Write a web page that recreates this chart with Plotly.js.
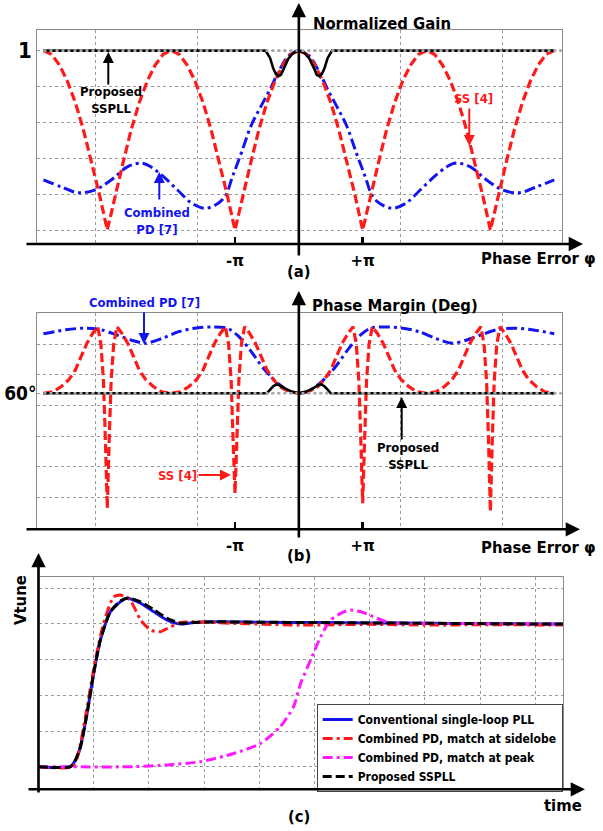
<!DOCTYPE html>
<html><head><meta charset="utf-8">
<script src="https://cdn.plot.ly/plotly-3.0.1.min.js"></script>
<style>html,body{margin:0;padding:0;background:#fff;}#chart{width:603px;height:831px;}</style>
</head><body><div id="chart"></div><script>
// ================= DATA =================
// (a) Normalized gain vs phase error (phase error in units of pi)
const phiGainSS = [-4,-3.875,-3.75,-3.625,-3.5,-3.375,-3.25,-3.125,-3,-2.875,-2.75,-2.625,-2.5,-2.375,-2.25,-2.125,-2,
  -1.875,-1.75,-1.625,-1.5,-1.375,-1.25,-1.125,-1,-0.875,-0.75,-0.625,-0.5,-0.375,-0.25,-0.125,0,
  0.125,0.25,0.375,0.5,0.625,0.75,0.875,1,1.125,1.25,1.375,1.5,1.625,1.75,1.875,2,
  2.125,2.25,2.375,2.5,2.625,2.75,2.875,3,3.125,3.25,3.375,3.5,3.625,3.75,3.875,4];
const gainSS = [1,.98,.92,.83,.71,.56,.38,.2,0,.2,.38,.56,.71,.83,.92,.98,1,
  .98,.92,.83,.71,.56,.38,.2,0,.2,.38,.56,.71,.83,.92,.98,1,
  .98,.92,.83,.71,.56,.38,.2,0,.2,.38,.56,.71,.83,.92,.98,1,
  .98,.92,.83,.71,.56,.38,.2,0,.2,.38,.56,.71,.83,.92,.98,1];
const phiGainPD = [-4,-3.72,-3.46,-3.2,-2.94,-2.68,-2.46,-2.32,-2.12,-1.9,-1.68,-1.47,-1.28,-1.15,-1.04,-0.9,-0.75,-0.6,-0.45,-0.3,-0.15,0,
  0.15,0.3,0.45,0.6,0.75,0.9,1.04,1.15,1.28,1.47,1.68,1.9,2.12,2.32,2.46,2.68,2.94,3.2,3.46,3.72,4];
const gainPD = [0.28,0.24,0.208,0.222,0.279,0.353,0.373,0.353,0.297,0.223,0.15,0.121,0.145,0.19,0.297,0.43,0.58,0.685,0.785,0.895,0.975,1,
  0.975,0.895,0.785,0.685,0.58,0.43,0.297,0.19,0.145,0.121,0.15,0.223,0.297,0.353,0.373,0.353,0.279,0.222,0.208,0.24,0.28];
const phiGainProp = [-4,-0.52,-0.45,-0.4,-0.36,-0.32,-0.28,-0.24,-0.165,-0.087,0,0.087,0.165,0.24,0.28,0.32,0.36,0.4,0.45,0.52,4];
const gainProp = [1,1,0.958,0.9,0.87,0.858,0.865,0.9,0.955,0.988,1,0.988,0.955,0.9,0.865,0.858,0.87,0.9,0.958,1,1];
const phiIdeal = [-4,4.15];
const gainIdeal = [1,1];

// (b) Phase margin (deg) vs phase error (units of pi)
const phiPmSS = [-4,-3.85,-3.72,-3.6,-3.5,-3.41,-3.32,-3.23,-3.15,-3.1,-3.06,-3.03,-3,-2.97,-2.94,-2.9,-2.85,-2.77,-2.68,-2.59,-2.5,-2.4,-2.28,-2.15,
  -2,-1.85,-1.72,-1.6,-1.5,-1.41,-1.32,-1.23,-1.15,-1.1,-1.06,-1.03,-1,-0.97,-0.94,-0.9,-0.85,-0.77,-0.68,-0.59,-0.5,-0.4,-0.3,-0.15,
  0,0.15,0.3,0.4,0.5,0.59,0.68,0.77,0.85,0.9,0.94,0.97,1,1.03,1.06,1.1,1.15,1.23,1.32,1.41,1.5,1.6,1.72,1.85,
  2,2.15,2.28,2.4,2.5,2.59,2.68,2.77,2.85,2.9,2.94,2.97,3,3.03,3.06,3.1,3.15,3.23,3.32,3.41,3.5,3.6,3.72,3.85,4];
const pmSS = [60,60.5,62.2,64.5,67.6,72,76.3,79.5,81.7,76,64,45,22.5,45,64,76,81.7,79.5,76.3,72,67.6,64.5,62.2,60.5,
  60,60.5,62.2,64.5,67.6,72,76.3,79.5,81.7,76,64,45,27.4,45,64,76,81.7,79.5,76.3,72,67.6,64.5,62.2,60.5,
  60,60.5,62.2,64.5,67.6,72,76.3,79.5,81.7,76,64,45,24.2,45,64,76,81.7,79.5,76.3,72,67.6,64.5,62.2,60.5,
  60,60.5,62.2,64.5,67.6,72,76.3,79.5,81.7,76,64,45,21.4,45,64,76,81.7,79.5,76.3,72,67.6,64.5,62.2,60.5,60];
const phiPmPD = [-4,-3.65,-3.37,-3.1,-2.85,-2.62,-2.4,-2.14,-1.88,-1.6,-1.35,-1.12,-0.95,-0.76,-0.55,-0.33,-0.15,0,
  0.15,0.33,0.55,0.76,0.95,1.12,1.35,1.6,1.88,2.14,2.4,2.62,2.85,3.1,3.37,3.65,4];
const pmPD = [79.4,80.7,81.2,80.7,79,77.3,76.3,77.9,80.1,81.3,81.6,81.2,78.7,74,68,63.3,60.6,60,
  60.6,63.3,68,74,78.7,81.2,81.6,81.3,80.1,77.9,76.3,77.3,79,80.7,81.2,80.7,79.4];
const phiPmProp = [-4,-0.5,-0.45,-0.4,-0.35,-0.3,-0.22,-0.12,0,0.12,0.22,0.3,0.35,0.4,0.45,0.5,4];
const pmProp = [60,60,61.2,62.3,62.9,62.6,61.6,60.6,60,60.6,61.6,62.6,62.9,62.3,61.2,60,60];
const pmIdeal = [60,60];

// (c) Vtune transient vs time (arbitrary units)
const tConv = [0,0.58,0.67,0.76,0.88,1.0,1.12,1.3,1.48,1.6,1.85,2.09,2.33,2.57,2.81,3.24,4,5,6,7,8,9,9.5];
const vConv = [0,0,0.19,0.56,1.5,2.62,3.55,4.34,4.62,4.72,4.58,4.34,4.11,4.0,4.04,4.06,4.05,4.04,4.03,4.02,4.01,4.0,4.0];
const tSide = [0,0.62,0.72,0.85,1.03,1.18,1.36,1.48,1.66,1.85,2.03,2.2,2.38,2.57,2.81,3.5,4.75,6,7,8,9.5];
const vSide = [0,0,0.35,1.4,2.99,4.02,4.76,4.81,4.67,4.11,3.83,3.78,3.91,4.04,4.06,4.02,3.97,3.99,3.97,3.98,3.97];
const tPeak = [0,1.72,2.33,2.93,3.54,4.02,4.38,4.62,4.75,4.93,5.11,5.29,5.53,5.65,5.89,6.13,6.37,7,8,9.5];
const vPeak = [0,0,0.05,0.14,0.37,0.65,1.12,1.68,2.34,2.99,3.64,4.11,4.34,4.39,4.32,4.16,4.04,4.02,4.01,4.0];
const tProp = [0,0.58,0.67,0.76,0.88,1.0,1.12,1.3,1.48,1.62,1.85,2.09,2.33,2.57,2.81,3.24,4,5,6,7,8,9,9.5];
const vProp = [0,0,0.19,0.56,1.5,2.62,3.55,4.34,4.64,4.73,4.62,4.4,4.16,4.02,4.04,4.06,4.05,4.04,4.03,4.02,4.01,4.0,4.0];

// tick labels
const piTickVals = [-1,1];            // units of pi
const piTickText = ['-\u03c0','+\u03c0'];
const gainTickVals = [0,0.2,0.4,0.6,0.8,1];
const gainTickText = ['','','','','','1'];
const pmTickVals = [16,26,36,46,56,60,66,76,86];
const pmTickText = ['','','','','','60\u00b0','','',''];
const legendNames = ['Conventional single-loop PLL','Combined PD, match at sidelobe','Combined PD, match at peak','Proposed SSPLL'];

// ================= STYLE / LAYOUT =================
const W = 603, H = 831;
const px = x => x / W;
const py = y => 1 - y / H;
const FONT = 'DejaVu Sans Condensed, Liberation Sans Narrow, Arial Narrow, sans-serif';
const RED = '#ff1a1a', BLUE = '#1414f0', MAG = '#ff19ff', GRAYL = '#a8a8a8';
const BIG = 16.5, SMALL = 13;
const rad = arr => arr.map(v => v * Math.PI);

const gridStyle = {showgrid: true, griddash: 'dot', gridcolor: '#9a9a9a', gridwidth: 1,
  zeroline: false, showline: true, mirror: true, linecolor: '#8a8a8a', linewidth: 1, ticks: ''};
const xRangePhi = [-12.869, 12.933];

const traces = [];
function add(tr) { traces.push(Object.assign({mode: 'lines', hoverinfo: 'skip', showlegend: false}, tr)); }

// (a)
add({x: rad(phiGainPD), y: gainPD, xaxis: 'x', yaxis: 'y', line: {color: BLUE, width: 3, dash: '11px,4px,3px,4px', shape: 'spline', smoothing: 1}});
add({x: rad(phiGainSS), y: gainSS, xaxis: 'x', yaxis: 'y', line: {color: RED, width: 3.2, dash: '9px,4px'}});
add({x: rad(phiGainProp), y: gainProp, xaxis: 'x', yaxis: 'y', line: {color: '#000', width: 2.6}});
add({x: rad(phiIdeal), y: gainIdeal, xaxis: 'x', yaxis: 'y', line: {color: GRAYL, width: 2.6, dash: '3px,3px'}});
add({x: [], y: [], xaxis: 'x2', yaxis: 'y'});
// (b)
add({x: rad(phiPmPD), y: pmPD, xaxis: 'x3', yaxis: 'y3', line: {color: BLUE, width: 3, dash: '11px,4px,3px,4px', shape: 'spline', smoothing: 0.8}});
add({x: rad(phiPmSS), y: pmSS, xaxis: 'x3', yaxis: 'y3', line: {color: RED, width: 3.2, dash: '9px,4px'}});
add({x: rad(phiPmProp), y: pmProp, xaxis: 'x3', yaxis: 'y3', line: {color: '#000', width: 2.6}});
add({x: rad(phiIdeal), y: pmIdeal, xaxis: 'x3', yaxis: 'y3', line: {color: GRAYL, width: 2.6, dash: '3px,3px'}});
add({x: [], y: [], xaxis: 'x4', yaxis: 'y3'});
// (c)
add({x: tConv, y: vConv, xaxis: 'x5', yaxis: 'y5', name: legendNames[0], showlegend: true, line: {color: BLUE, width: 3, shape: 'spline', smoothing: 0.6}});
add({x: tSide, y: vSide, xaxis: 'x5', yaxis: 'y5', name: legendNames[1], showlegend: true, line: {color: RED, width: 3, dash: '10px,4px,3px,4px', shape: 'spline', smoothing: 0.6}});
add({x: tPeak, y: vPeak, xaxis: 'x5', yaxis: 'y5', name: legendNames[2], showlegend: true, line: {color: MAG, width: 3, dash: '10px,4px,3px,4px', shape: 'spline', smoothing: 0.6}});
add({x: tProp, y: vProp, xaxis: 'x5', yaxis: 'y5', name: legendNames[3], showlegend: true, line: {color: '#000', width: 3, dash: '9px,4px', shape: 'spline', smoothing: 0.6}});

const bigFont = {family: FONT, size: BIG, color: '#000', weight: 'bold'};
const piAxis = (overlay, anchor) => ({overlaying: overlay, anchor: anchor, side: 'bottom', range: xRangePhi,
  tickvals: rad(piTickVals), ticktext: piTickText, ticks: 'inside', ticklen: 7, tickwidth: 2.5, tickcolor: '#000',
  showgrid: false, zeroline: false, showline: false, tickfont: bigFont, ticklabelstandoff: 4});

const layout = {
  width: W, height: H, margin: {l: 0, r: 0, t: 0, b: 0, pad: 0},
  paper_bgcolor: '#fff', plot_bgcolor: '#fff', showlegend: true,
  xaxis: Object.assign({}, gridStyle, {domain: [px(37.3), px(561.7)], range: xRangePhi, tick0: 0, dtick: 5, showticklabels: false, anchor: 'y'}),
  yaxis: Object.assign({}, gridStyle, {domain: [py(244), py(30)], range: [-0.078, 1.115], tickvals: gainTickVals, ticktext: gainTickText,
    tickfont: {family: FONT, size: 22, color: '#000', weight: 'bold'}, ticklabelstandoff: 0, anchor: 'x'}),
  xaxis2: piAxis('x', 'y'),
  xaxis3: Object.assign({}, gridStyle, {domain: [px(37.3), px(561.7)], range: xRangePhi, tick0: 0, dtick: 5, showticklabels: false, anchor: 'y3'}),
  yaxis3: Object.assign({}, gridStyle, {domain: [py(529.3), py(313.3)], range: [15.7, 86.06], tickvals: pmTickVals, ticktext: pmTickText,
    tickfont: {family: FONT, size: 19, color: '#000', weight: 'bold'}, ticklabelstandoff: -4, anchor: 'x3'}),
  xaxis4: piAxis('x3', 'y3'),
  xaxis5: Object.assign({}, gridStyle, {domain: [px(38.5), px(562.9)], range: [0, 9.5], tick0: 0, dtick: 1, showticklabels: false, anchor: 'y5'}),
  yaxis5: Object.assign({}, gridStyle, {domain: [py(789.3), py(576.7)], range: [-0.633, 5.325], tick0: 0, dtick: 1, showticklabels: false, anchor: 'x5'}),
  legend: {x: px(316.7), y: py(704), xanchor: 'left', yanchor: 'top', bgcolor: '#fff', bordercolor: '#444', borderwidth: 1,
    font: {family: FONT, size: 12, color: '#000', weight: 'bold'}, itemwidth: 30, tracegroupgap: 0},
  annotations: []
};

function txt(text, x, y, o) {
  o = o || {};
  layout.annotations.push({text: text, xref: 'paper', yref: 'paper', x: px(x), y: py(y), showarrow: false,
    xanchor: o.xanchor || 'center', yanchor: 'middle', align: 'center', textangle: o.angle || 0,
    font: {family: FONT, size: o.size || SMALL, color: o.color || '#000', weight: 'bold'}});
}
function arrow(x0, y0, x1, y1, o) {
  o = o || {};
  layout.annotations.push({text: '', xref: 'paper', yref: 'paper', x: px(x1), y: py(y1), axref: 'pixel', ayref: 'pixel',
    ax: x0 - x1, ay: y0 - y1, showarrow: true, arrowhead: 2, arrowsize: o.size || 1, arrowwidth: o.width || 2,
    arrowcolor: o.color || '#000', standoff: 0, startstandoff: 0});
}

// axes arrows
arrow(25, 244, 583, 244, {width: 2.6, size: 1.1});
arrow(298.85, 257, 298.85, 3, {width: 2.6, size: 1.1});
arrow(25, 529.3, 580, 529.3, {width: 2.6, size: 1.1});
arrow(298.85, 539, 298.85, 291, {width: 2.6, size: 1.1});
arrow(27, 789.3, 585, 789.3, {width: 2.6, size: 1.1});
arrow(38.5, 794, 38.5, 553, {width: 2.6, size: 1.1});

// (a) labels
txt('Normalized Gain', 311, 23.3, {xanchor: 'left', size: BIG});
txt('Phase Error \u03c6', 479, 258.3, {xanchor: 'left', size: BIG});
txt('(a)', 298.5, 271, {size: BIG});
txt('Proposed<br>SSPLL', 111, 100, {size: SMALL});
arrow(108.3, 86, 108.3, 52, {width: 2, size: 1.1});
txt('Combined<br>PD [7]', 156.5, 221, {size: SMALL, color: BLUE});
arrow(159.3, 201, 159.3, 172, {width: 2, size: 1.1, color: BLUE});
txt('SS [4]', 473, 98.3, {size: SMALL, color: RED});
arrow(469.3, 107, 469.3, 146, {width: 2, size: 1.1, color: RED});

// (b) labels
txt('Phase Margin (Deg)', 310, 305, {xanchor: 'left', size: BIG});
txt('Combined PD [7]', 144, 302.7, {size: SMALL, color: BLUE});
arrow(144, 310.7, 144, 344, {width: 2, size: 1.1, color: BLUE});
txt('SS [4]', 177.5, 476, {size: SMALL, color: RED});
arrow(197, 475, 231, 475, {width: 2, size: 1.1, color: RED});
txt('Proposed<br>SSPLL', 408, 456, {size: SMALL});
arrow(401.7, 441, 401.7, 397, {width: 2, size: 1.1});
txt('Phase Error \u03c6', 479, 547.3, {xanchor: 'left', size: BIG});
txt('(b)', 298.5, 555, {size: BIG});

// (c) labels
txt('Vtune', 20, 600, {size: BIG, angle: -90});
txt('time', 563, 805.7, {size: BIG});
txt('(c)', 298.5, 816, {size: BIG});

Plotly.newPlot('chart', traces, layout, {staticPlot: true, displayModeBar: false});
</script></body></html>
